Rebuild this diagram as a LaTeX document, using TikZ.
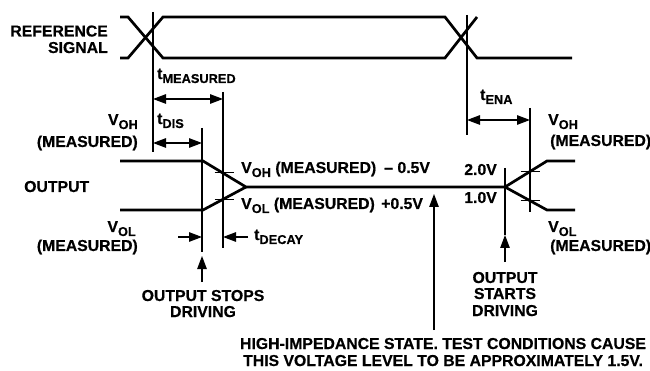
\documentclass[tikz,border=0pt]{standalone}
\usepackage{fontspec}
\setmainfont{Liberation Sans}[BoldFont={Liberation Sans Bold}]
\newfontfamily\lbfam{Liberation Sans Bold}[FakeBold=0.6]
\usetikzlibrary{arrows.meta}
\newcommand\sbs[1]{\raisebox{-4pt}{\fontsize{12.8}{13}\selectfont #1}}
\newcommand\lbf{\lbfam\fontsize{15.8}{16}\selectfont}
\tikzset{
  wave/.style={line width=2.7pt},
  mk/.style={line width=1.2pt},
  dim/.style={mk,{Triangle[length=13pt,width=9.5pt]}-{Triangle[length=13pt,width=9.5pt]}},
  pt/.style={mk,-{Triangle[length=13pt,width=9.5pt]}},
  lbl/.style={inner sep=0pt,font=\lbf},
  tick/.style={line width=1pt},
}
\begin{document}
\begin{tikzpicture}[x=1pt,y=-1pt]
\useasboundingbox (0,0) rectangle (650,371);
% reference signal
\draw[wave] (120,17) -- (128,17) -- (163,58) -- (445,58) -- (477,17);
\draw[wave] (120,58) -- (128,58) -- (163,17) -- (445,17) -- (477,58) -- (572,58);
% output waveform
\draw[wave] (120,161) -- (203,161) -- (246,187) -- (505,187) -- (547,161) -- (575,161);
\draw[wave] (120,210) -- (203,210) -- (246,187);
\draw[wave] (505,187) -- (547,210) -- (575,210);
% marker lines
\coordinate (r1t) at (153,12);  \coordinate (r1b) at (153,152);
\coordinate (m1t) at (223,92);  \coordinate (m1b) at (223,248);
\coordinate (s1t) at (202,128); \coordinate (s1b) at (202,252);
\coordinate (r2t) at (467,15);  \coordinate (r2b) at (467,135);
\coordinate (e2t) at (530,108); \coordinate (e2b) at (530,212);
\coordinate (d2t) at (505,168); \coordinate (d2a) at (505,235); \coordinate (d2b) at (505,262);
\draw[mk] (r1t) -- (r1b);
\draw[mk] (m1t) -- (m1b);
\draw[mk] (s1t) -- (s1b);
\draw[mk] (r2t) -- (r2b);
\draw[mk] (e2t) -- (e2b);
\draw[mk] (d2t) -- (d2a);
\draw[pt] (d2b) -- (d2a);
\coordinate (sa) at (202,282); \coordinate (sb) at (202,256);
\draw[pt] (sa) -- (sb);
\coordinate (ha) at (434,330); \coordinate (hb) at (434,194);
\draw[pt] (ha) -- (hb);
% dimension arrows
\draw[dim] (153,99) -- (223,99);
\draw[dim] (153,143) -- (202,143);
\draw[dim] (467,120) -- (530,120);
\draw[pt] (178,237) -- (202,237);
\draw[pt] (248,237) -- (223,237);
% ticks
\draw[tick] (214.5,173) -- (233.5,173);
\draw[tick] (214.5,199.2) -- (233.5,199.2);
\draw[tick] (520.5,171.5) -- (539.5,171.5);
\draw[tick] (520.5,200.7) -- (539.5,200.7);
% labels
\node[lbl,anchor=base east] (ref1) at (108,36.5) {REFERENCE};
\node[lbl,anchor=base east] (ref2) at (108,53) {SIGNAL};
\node[lbl,anchor=base west] (tmeas) at (157,79) {t\sbs{MEASURED}};
\node[lbl,anchor=base west] (tdis) at (157,124) {t\sbs{DIS}};
\node[lbl,anchor=base west] (tena) at (480,100) {t\sbs{ENA}};
\node[lbl,anchor=base west] (tdec) at (254,240) {t\sbs{DECAY}};
\node[lbl,anchor=base east] (voh1) at (138,125) {V\sbs{OH}};
\node[lbl,anchor=base east] (vohm1) at (138,147) {(MEASURED)};
\node[lbl,anchor=base west] (out) at (24,192) {OUTPUT};
\node[lbl,anchor=base east] (vol1) at (136,232) {V\sbs{OL}};
\node[lbl,anchor=base east] (volm1) at (138,251) {(MEASURED)};
\node[lbl,anchor=base west] (mid1) at (241,173) {V\sbs{OH} (MEASURED)\hspace{8pt}– 0.5V};
\node[lbl,anchor=base west] (mid2) at (241,209) {V\sbs{OL} (MEASURED)\hspace{2pt} +0.5V};
\node[lbl,anchor=base east] (v20) at (497,175) {2.0V};
\node[lbl,anchor=base east] (v10) at (497,203) {1.0V};
\node[lbl,anchor=base west] (voh2) at (548,125) {V\sbs{OH}};
\node[lbl,anchor=base west] (vohm2) at (550,146) {(MEASURED)};
\node[lbl,anchor=base west] (vol2) at (548,232) {V\sbs{OL}};
\node[lbl,anchor=base west] (volm2) at (550,251) {(MEASURED)};
\node[lbl,anchor=base] (stop1) at (203,301) {OUTPUT STOPS};
\node[lbl,anchor=base] (stop2) at (203,317) {DRIVING};
\node[lbl,anchor=base] (start1) at (505,283) {OUTPUT};
\node[lbl,anchor=base] (start2) at (505,299) {STARTS};
\node[lbl,anchor=base] (start3) at (505,316) {DRIVING};
\node[lbl,anchor=base] (hi1) at (443,349) {HIGH-IMPEDANCE STATE. TEST CONDITIONS CAUSE};
\node[lbl,anchor=base] (hi2) at (443,366) {THIS VOLTAGE LEVEL TO BE APPROXIMATELY 1.5V.};
\end{tikzpicture}
\end{document}
